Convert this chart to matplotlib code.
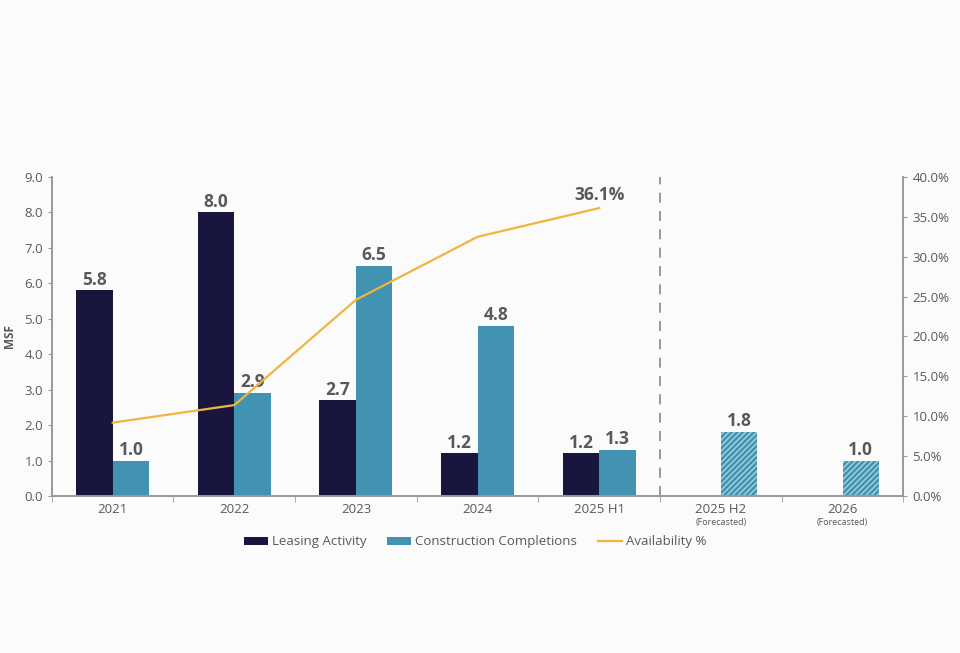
#!/usr/bin/env python3

import numpy as np
import matplotlib.pyplot as plt

categories = ['2021', '2022', '2023', '2024', '2025 H1', '2025 H2', '2026']
forecast = [False, False, False, False, False, True, True]
leasing = [5.8, 8.0, 2.7, 1.2, 1.2, None, None]
completions = [1.0, 2.9, 6.5, 4.8, 1.3, 1.8, 1.0]
availability = [9.2, 11.4, 24.6, 32.5, 36.1]

navy = '#19163d'
teal = '#4292b1'
gold = '#efb53f'
grey = '#595959'


def main():
	plt.rcParams['font.family'] = ['Open Sans', 'DejaVu Sans']
	fig = plt.figure(figsize=(9.6, 6.53), dpi=100)
	fig.patch.set_facecolor('#fbfbfb')
	ax = fig.add_axes([0.054, 0.2404, 0.887, 0.4886])
	ax.set_facecolor('none')
	ax2 = ax.twinx()

	x = np.arange(len(categories))
	width = 0.3

	# actual bars
	for i in range(len(categories)):
		if leasing[i] is not None:
			ax.bar(x[i] - width/2, leasing[i], width, color=navy, zorder=2)
			ax.text(x[i] - width/2, leasing[i] + 0.05, f'{leasing[i]:.1f}', ha='center', va='bottom',
					fontsize=12.5, fontweight='bold', color=grey)
		if forecast[i]:
			ax.bar(x[i] + width/2, completions[i], width, color=teal, hatch='//////', edgecolor='#a8d3e3',
				   linewidth=0, zorder=2)
		else:
			ax.bar(x[i] + width/2, completions[i], width, color=teal, zorder=2)
		ax.text(x[i] + width/2, completions[i] + 0.05, f'{completions[i]:.1f}', ha='center', va='bottom',
				fontsize=12.5, fontweight='bold', color=grey)

	# legend handles
	ax.bar([0], [0], 0, color=navy, label='Leasing Activity')
	ax.bar([0], [0], 0, color=teal, label='Construction Completions')

	xa = x[:len(availability)]
	ln, = ax2.plot(xa, availability, color=gold, lw=1.6, label='Availability %', zorder=3)
	ax2.text(xa[-1], availability[-1] + 0.5, f'{availability[-1]:.1f}%', ha='center', va='bottom',
			 fontsize=12.5, fontweight='bold', color=grey)

	ax.axvline(4.5, color='#888888', lw=1.2, ls=(0, (6, 5)), zorder=1)

	ax.set_xlim(-0.5, len(categories) - 0.5)
	ax.set_ylim(0, 9)
	ax2.set_ylim(0, 40)
	ax.set_yticks(np.arange(0, 9.5, 1.0))
	ax.set_yticklabels([f'{v:.1f}' for v in np.arange(0, 9.5, 1.0)])
	ax2.set_yticks(np.arange(0, 45, 5))
	ax2.set_yticklabels([f'{v:.1f}%' for v in np.arange(0, 45, 5)])

	ax.set_xticks(x)
	ax.set_xticklabels(categories)
	ax.set_xticks(np.arange(-0.5, len(categories), 1.0), minor=True)
	ax.tick_params(axis='x', which='major', length=0, pad=5, labelsize=9.5, labelcolor=grey)
	ax.tick_params(axis='x', which='minor', length=4, color='#999999')
	ax.tick_params(axis='y', length=3, color='#999999', labelsize=9.5, labelcolor=grey)
	ax2.tick_params(axis='y', length=3, color='#999999', labelsize=9.5, labelcolor=grey)
	for i in range(len(categories)):
		if forecast[i]:
			ax.text(x[i], -0.62, '(Forecasted)', ha='center', va='top', fontsize=6.5, color=grey)

	for a in (ax, ax2):
		a.spines['top'].set_visible(False)
		for s in ('left', 'right', 'bottom'):
			a.spines[s].set_color('#999999')
			a.spines[s].set_linewidth(1.2)

	ax.set_ylabel('MSF', fontsize=8.5, fontweight='bold', color=grey, labelpad=6)

	handles, labels = ax.get_legend_handles_labels()
	handles.append(ln)
	labels.append('Availability %')
	leg = fig.legend(handles, labels, loc='center', bbox_to_anchor=(0.495, 0.17), ncol=3, frameon=False,
					 fontsize=9.5, handlelength=1.8, handleheight=0.5, handletextpad=0.3, columnspacing=1.6)
	for t in leg.get_texts():
		t.set_color(grey)

	fig.savefig('out.png', dpi=100, facecolor=fig.get_facecolor())


if __name__ == '__main__':
	main()
